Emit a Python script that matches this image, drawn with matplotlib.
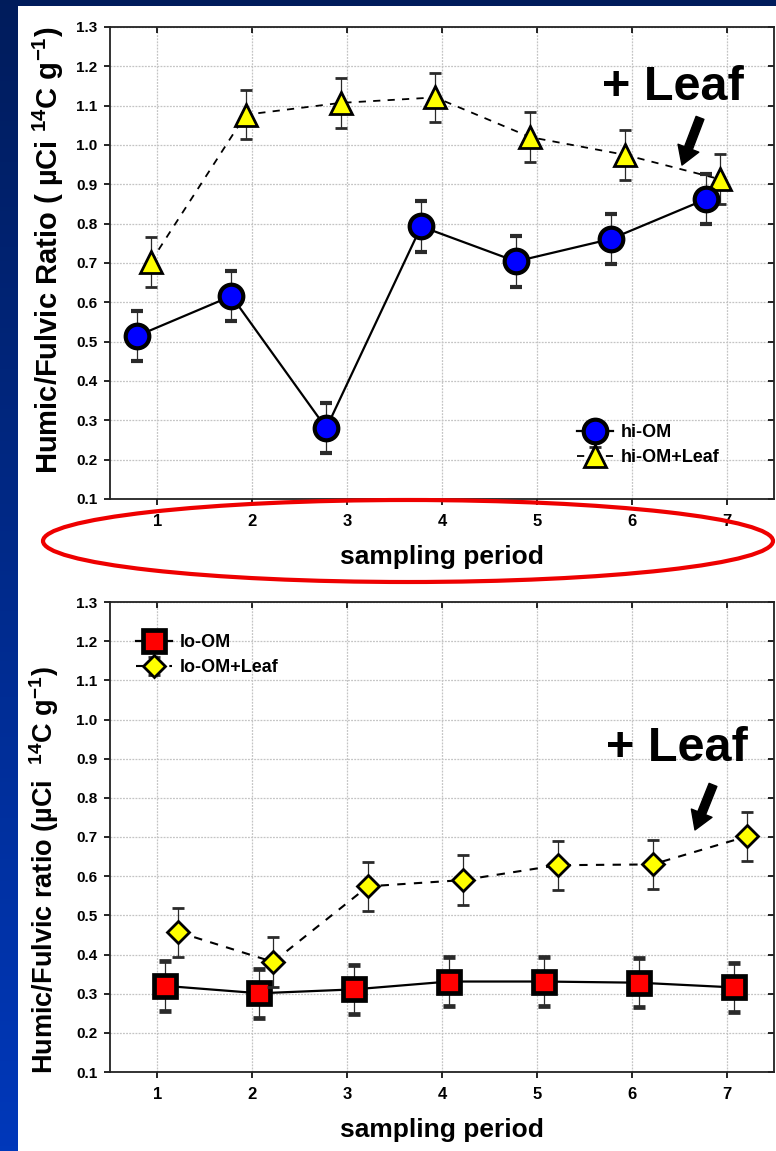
import numpy as np
import matplotlib
matplotlib.use("Agg")
import matplotlib.pyplot as plt
from matplotlib.patches import Ellipse, Rectangle

plt.rcParams['font.family'] = ['Liberation Sans', 'DejaVu Sans']
plt.rcParams['font.weight'] = 'bold'
plt.rcParams['mathtext.fontset'] = 'custom'
plt.rcParams['mathtext.rm'] = 'Liberation Sans:bold'
plt.rcParams['mathtext.it'] = 'Liberation Sans:bold'
plt.rcParams['mathtext.bf'] = 'Liberation Sans:bold'

# ---- data ----
periods = np.array([1, 2, 3, 4, 5, 6, 7])

hi_om = [0.514, 0.616, 0.280, 0.793, 0.704, 0.761, 0.862]
hi_om_err = [0.064, 0.064, 0.064, 0.064, 0.064, 0.064, 0.064]
hi_om_leaf = [0.703, 1.077, 1.107, 1.121, 1.020, 0.975, 0.913]
hi_om_leaf_err = [0.063, 0.063, 0.063, 0.063, 0.063, 0.063, 0.063]

lo_om = [0.320, 0.301, 0.311, 0.331, 0.331, 0.328, 0.316]
lo_om_err = [0.063, 0.063, 0.063, 0.063, 0.063, 0.063, 0.063]
lo_om_leaf = [0.457, 0.381, 0.574, 0.590, 0.628, 0.630, 0.702]
lo_om_leaf_err = [0.063, 0.063, 0.063, 0.063, 0.063, 0.063, 0.063]

y_ticks = [0.1, 0.2, 0.3, 0.4, 0.5, 0.6, 0.7, 0.8, 0.9, 1.0, 1.1, 1.2, 1.3]

W, H = 776, 1151
fig = plt.figure(figsize=(W / 100, H / 100), dpi=100)

# slide background: blue gradient band on the left and top, white panel
bg = fig.add_axes([0, 0, 1, 1])
grad = np.linspace(0, 1, 256)[:, None]
c_top = np.array([0.0, 0.11, 0.36])
c_bot = np.array([0.0, 0.22, 0.73])
img = c_top[None, None, :] * (1 - grad[:, :, None]) + c_bot[None, None, :] * grad[:, :, None]
bg.imshow(img, aspect='auto', extent=[0, 1, 0, 1], origin='upper')
bg.add_patch(Rectangle((18 / W, 0), 1, 1 - 6 / H, facecolor='white', edgecolor='none'))
bg.set_xlim(0, 1)
bg.set_ylim(0, 1)
bg.axis('off')


def style_axes(ax):
    ax.set_xlim(0.5, 7.5)
    ax.set_ylim(0.1, 1.3)
    ax.set_xticks(periods)
    ax.set_yticks(y_ticks)
    ax.set_yticklabels([f"{v:.1f}" for v in y_ticks])
    ax.grid(True, color='#c4c4c4', linestyle=(0, (1.5, 1)), linewidth=0.9)
    ax.set_axisbelow(True)
    ax.tick_params(axis='both', which='major', width=1.2, length=4)
    ax.tick_params(axis='x', direction='out', top=True, pad=7, labelsize=12)
    ax.tick_params(axis='y', direction='out', right=True, pad=5, labelsize=11)
    for lbl in ax.get_xticklabels() + ax.get_yticklabels():
        lbl.set_fontweight('bold')
    for t in ax.xaxis.get_major_ticks():
        t.tick2line.set_marker(3)  # downward-pointing at top spine
    for t in ax.yaxis.get_major_ticks():
        t.tick2line.set_marker(0)  # inward-pointing at right spine
    for s in ax.spines.values():
        s.set_linewidth(1.3)
        s.set_color('#222222')
    ax.set_xlabel('sampling period', fontsize=19, fontweight='bold', labelpad=11)


err_kw = dict(ecolor='#2a2a2a', elinewidth=0.9, capsize=4, capthick=0.9)
leg_prop = {'weight': 'bold', 'size': 13}

# ---- upper panel: hi-OM ----
ax1 = fig.add_axes([110 / W, 1 - 499 / H, 664 / W, 472 / H])
style_axes(ax1)
ax1.errorbar(periods - 0.22, hi_om, yerr=hi_om_err, color='black', lw=1.6,
             marker='o', ms=17, mfc='#0000ff', mec='black', mew=3.0,
             label='hi-OM', zorder=4, **err_kw)
ax1.errorbar(periods - 0.07, hi_om_leaf, yerr=hi_om_leaf_err, color='black', lw=1.3,
             ls=(0, (4, 4)), marker='^', ms=16.5, mfc='#ffff00', mec='black', mew=2.0,
             label='hi-OM+Leaf', zorder=3, **err_kw)
ax1.set_ylabel('Humic/Fulvic Ratio ( \u00b5Ci $^{14}$C g$^{-1}$)', fontsize=21,
               fontweight='bold')
ax1.yaxis.set_label_coords(-0.066, 0.526)
ax1.legend(loc='upper left', bbox_to_anchor=((577 - 110) / 664, 1 - (424 - 27) / 472),
           frameon=False, handlelength=2.0, handletextpad=0.45,
           borderpad=0, borderaxespad=0, labelspacing=0.45, numpoints=1,
           prop=leg_prop)
ax1.text(6.435, 1.145, '+ Leaf', fontsize=35, fontweight='bold', ha='center', va='center')
ax1.annotate('', xy=(6.53, 0.949), xytext=(6.72, 1.069),
             arrowprops=dict(facecolor='black', edgecolor='black', width=6,
                             headwidth=16, headlength=13, shrink=0))

# ---- lower panel: lo-OM ----
ax2 = fig.add_axes([110 / W, 1 - 1072 / H, 664 / W, 470 / H])
style_axes(ax2)
ax2.errorbar(periods + 0.075, lo_om, yerr=lo_om_err, color='black', lw=1.6,
             marker='s', ms=16.5, mfc='#ff0000', mec='black', mew=3.4,
             label='lo-OM', zorder=3, **err_kw)
ax2.errorbar(periods + 0.22, lo_om_leaf, yerr=lo_om_leaf_err, color='black', lw=1.5,
             ls=(0, (4, 4)), marker='D', ms=11.5, mfc='#ffff00', mec='black', mew=2.0,
             label='lo-OM+Leaf', zorder=4, **err_kw)
ax2.set_ylabel('Humic/Fulvic ratio (\u00b5Ci  $^{14}$C g$^{-1}$)', fontsize=19.5,
               fontweight='bold')
ax2.yaxis.set_label_coords(-0.074, 0.43)
ax2.legend(loc='upper left', bbox_to_anchor=((136 - 110) / 664, 1 - (634 - 602) / 470),
           frameon=False, handlelength=2.0, handletextpad=0.45,
           borderpad=0, borderaxespad=0, labelspacing=0.45, numpoints=1,
           prop=leg_prop)
ax2.text(6.477, 0.927, '+ Leaf', fontsize=35, fontweight='bold', ha='center', va='center')
ax2.annotate('', xy=(6.667, 0.718), xytext=(6.857, 0.833),
             arrowprops=dict(facecolor='black', edgecolor='black', width=6,
                             headwidth=16, headlength=13, shrink=0))

# red ellipse highlighting the sampling-period axis of the upper panel
fig.patches.append(Ellipse((408 / W, 1 - 541 / H), 730 / W, 82 / H,
                           transform=fig.transFigure, fill=False,
                           edgecolor='#ee0000', linewidth=3.0, zorder=10))

fig.savefig('out.png', dpi=100)
